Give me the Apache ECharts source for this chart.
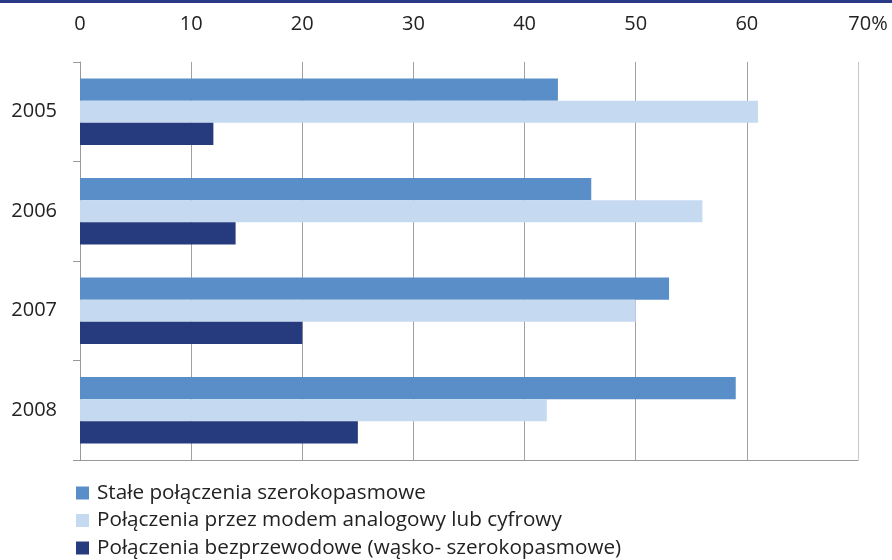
<!DOCTYPE html>
<html><head><meta charset="utf-8">
<script src="https://cdn.jsdelivr.net/npm/echarts@6/dist/echarts.min.js"></script>
<style>html,body{margin:0;padding:0;background:#fff}#c{width:892px;height:560px}</style>
</head><body><div id="c"></div>
<script>
var categories = ['2005', '2006', '2007', '2008'];
var seriesNames = ['Stałe połączenia szerokopasmowe', 'Połączenia przez modem analogowy lub cyfrowy', 'Połączenia bezprzewodowe (wąsko- szerokopasmowe)'];
var fixedBroadband = [43, 46, 53, 59];
var modem = [61, 56, 50, 42];
var wireless = [12, 14, 20, 25];
var tickLabels = ['0', '10', '20', '30', '40', '50', '60', '70%'];
var colors = ['#5a8ec8', '#c5d9f1', '#263a7e'];
var FONT = 'Open Sans';
var FS = 20;

var chart = echarts.init(document.getElementById('c'));
chart.setOption({
  animation: false,
  color: colors,
  graphic: [{type: 'rect', shape: {x: 0, y: 0, width: 892, height: 3}, style: {fill: '#2b3a86'}}],
  grid: {left: 80, right: 34, top: 62, bottom: 100, containLabel: false},
  legend: {
    orient: 'vertical', left: 76, top: 482, height: 90, padding: 0,
    itemWidth: 13, itemHeight: 13, itemGap: 5.5,
    icon: 'rect', selectedMode: false,
    textStyle: {fontFamily: FONT, fontSize: 20.7, color: '#222', lineHeight: 22, padding: [0, 0, 0, 3]},
    data: seriesNames
  },
  xAxis: [{
    type: 'value', position: 'top', min: 0, max: 70, interval: 10,
    axisLine: {show: false}, axisTick: {show: false},
    axisLabel: {
      margin: 28, fontFamily: FONT, fontSize: FS, color: '#222',
      formatter: function (v) { var i = Math.round(v / 10); var t = tickLabels[i]; return i === 7 ? '{p|' + t + '}' : t; },
      rich: {p: {fontFamily: FONT, fontSize: FS, color: '#222', padding: [0, 0, 0, 20]}}
    },
    splitLine: {show: true, lineStyle: {color: ['#a0a0a0', '#a0a0a0', '#a0a0a0', '#a0a0a0', '#a0a0a0', '#a0a0a0', '#a0a0a0', '#c8c8c8'], width: 1}}
  }, {
    type: 'value', position: 'bottom', min: 0, max: 70, interval: 10,
    axisLine: {show: true, lineStyle: {color: '#999', width: 1}},
    axisTick: {show: false}, axisLabel: {show: false}, splitLine: {show: false}
  }],
  yAxis: {
    type: 'category', inverse: true, data: categories,
    axisLine: {show: true, lineStyle: {color: '#999', width: 1}},
    axisTick: {show: true, length: 7, lineStyle: {color: '#999'}},
    axisLabel: {margin: 23, fontFamily: FONT, fontSize: FS, color: '#222'}
  },
  series: [
    {name: seriesNames[0], type: 'bar', data: fixedBroadband, barGap: '0%', barCategoryGap: '33%'},
    {name: seriesNames[1], type: 'bar', data: modem, barGap: '0%', barCategoryGap: '33%'},
    {name: seriesNames[2], type: 'bar', data: wireless, barGap: '0%', barCategoryGap: '33%'}
  ]
});
</script></body></html>
